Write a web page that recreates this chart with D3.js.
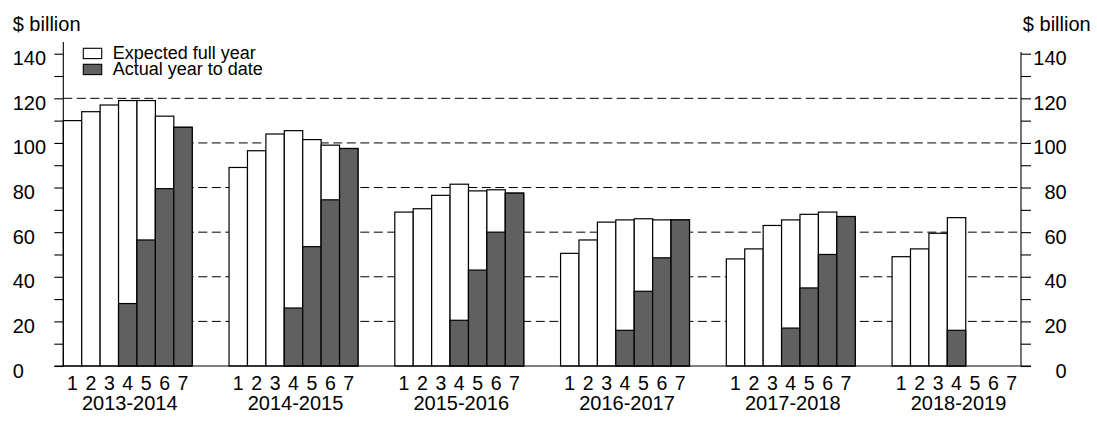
<!DOCTYPE html>
<html>
<head>
<meta charset="utf-8">
<script src="https://cdn.jsdelivr.net/npm/d3@7"></script>
<style>
  body { margin: 0; background: #fff; }
  text { font-family: "Liberation Sans", Arial, sans-serif; fill: #000; }
</style>
</head>
<body>
<div id="chart"></div>
<script>
// financial years and the periods within each one
const years = ["2013-2014", "2014-2015", "2015-2016", "2016-2017", "2017-2018", "2018-2019"];
const periods = [1, 2, 3, 4, 5, 6, 7];

// expected full year ($ billion), one row per year, null = not yet published
const expectedFullYear = [
    [110, 114, 117, 119, 119, 112, 107],
    [89, 96.5, 104, 105.5, 101.5, 99, 97.5],
    [69, 70.5, 76.5, 81.5, 78.5, 79, 77.5],
    [50.5, 56.5, 64.5, 65.5, 66, 65.5, 65.5],
    [48, 52.5, 63, 65.5, 68, 69, 67],
    [49, 52.5, 59.5, 66.5, null, null, null]
];

// actual year to date ($ billion)
const actualToDate = [
    [null, null, null, 28, 56.5, 79.5, 107],
    [null, null, null, 26, 53.5, 74.5, 97.5],
    [null, null, null, 20.5, 43, 60, 77.5],
    [null, null, null, 16, 33.5, 48.5, 65.5],
    [null, null, null, 17, 35, 50, 67],
    [null, null, null, 16, null, null, null]
];

const yTicks = [0, 20, 40, 60, 80, 100, 120, 140];
const legendLabels = ["Expected full year", "Actual year to date"];

const width = 1097, height = 422;
const plotLeft = 63.3, plotRight = 1021, plotBottom = 366, plotTop = 53.7;
const darkFill = "#606060";
const slotsPerYear = periods.length + 2;

const svg = d3.select("#chart").append("svg")
    .attr("width", width)
    .attr("height", height);

const y = d3.scaleLinear().domain([0, 140]).range([plotBottom, plotTop]);
const x = d3.scaleLinear()
    .domain([0, years.length * slotsPerYear - 2])
    .range([plotLeft, plotRight]);
const bw = x(1) - x(0);

const slot = (yi, pi) => yi * slotsPerYear + pi;

// dashed gridlines
svg.append("g")
    .selectAll("line")
    .data(yTicks.filter(d => d > 0 && d < 140))
    .enter()
    .append("line")
    .attr("x1", plotLeft).attr("x2", plotRight)
    .attr("y1", d => y(d)).attr("y2", d => y(d))
    .attr("stroke", "#000")
    .attr("stroke-width", 1)
    .attr("stroke-dasharray", "9,4.5");

// flatten rows into bars
const expBars = [], actBars = [];
years.forEach((yr, yi) => {
    periods.forEach((p, pi) => {
        if (expectedFullYear[yi][pi] != null) expBars.push({ s: slot(yi, pi), v: expectedFullYear[yi][pi] });
        if (actualToDate[yi][pi] != null) actBars.push({ s: slot(yi, pi), v: actualToDate[yi][pi] });
    });
});

svg.append("g")
    .selectAll("rect")
    .data(expBars)
    .enter()
    .append("rect")
    .attr("x", d => x(d.s))
    .attr("width", bw)
    .attr("y", d => y(d.v))
    .attr("height", d => y(0) - y(d.v))
    .attr("fill", "#fff")
    .attr("stroke", "#000")
    .attr("stroke-width", 1.2);

svg.append("g")
    .selectAll("rect")
    .data(actBars)
    .enter()
    .append("rect")
    .attr("x", d => x(d.s))
    .attr("width", bw)
    .attr("y", d => y(d.v))
    .attr("height", d => y(0) - y(d.v))
    .attr("fill", darkFill)
    .attr("stroke", "#000")
    .attr("stroke-width", 1.2);

// axes
const minorTicks = d3.range(0, 141, 10);

const leftAxis = svg.append("g")
    .attr("transform", `translate(${plotLeft},0)`)
    .call(d3.axisLeft(y).tickValues(minorTicks).tickSize(9).tickSizeOuter(0)
        .tickFormat(d => yTicks.includes(d) ? d : ""));
leftAxis.select(".domain").remove();
leftAxis.selectAll("line").attr("stroke-width", 1.1);
leftAxis.selectAll("text")
    .attr("x", 12.7 - plotLeft)
    .attr("dy", "0.55em")
    .attr("text-anchor", "start")
    .style("font-size", "20px")
    .style("font-family", "Liberation Sans, Arial, sans-serif");

const rightAxis = svg.append("g")
    .attr("transform", `translate(${plotRight},0)`)
    .call(d3.axisRight(y).tickValues(minorTicks).tickSize(10).tickSizeOuter(0)
        .tickFormat(d => yTicks.includes(d) ? d : ""));
rightAxis.select(".domain").remove();
rightAxis.selectAll("line").attr("stroke-width", 1.1);
rightAxis.selectAll("text")
    .attr("x", 1066.7 - plotRight)
    .attr("dy", "0.55em")
    .attr("text-anchor", "end")
    .style("font-size", "20px")
    .style("font-family", "Liberation Sans, Arial, sans-serif");

// vertical axis lines and baseline
svg.append("line")
    .attr("x1", plotLeft).attr("x2", plotLeft)
    .attr("y1", y(0)).attr("y2", y(145.2))
    .attr("stroke", "#000").attr("stroke-width", 1.1);
svg.append("line")
    .attr("x1", plotRight).attr("x2", plotRight)
    .attr("y1", y(0)).attr("y2", y(140.8))
    .attr("stroke", "#000").attr("stroke-width", 1.1);
svg.append("line")
    .attr("x1", plotLeft - 9).attr("x2", plotRight + 10)
    .attr("y1", y(0)).attr("y2", y(0))
    .attr("stroke", "#000").attr("stroke-width", 1.2);

// unit labels
svg.append("text").attr("x", 12.7).attr("y", 31)
    .style("font-size", "20px").text("$ billion");
svg.append("text").attr("x", 1090.7).attr("y", 31)
    .attr("text-anchor", "end")
    .style("font-size", "20px").text("$ billion");

// period numbers and year labels
const periodLabels = [];
years.forEach((yr, yi) => periods.forEach((p, pi) => periodLabels.push({ s: slot(yi, pi), p: p })));

svg.append("g")
    .selectAll("text")
    .data(periodLabels)
    .enter()
    .append("text")
    .attr("x", d => x(d.s) + bw / 2)
    .attr("y", 390)
    .attr("text-anchor", "middle")
    .style("font-size", "19.5px")
    .text(d => d.p);

svg.append("g")
    .selectAll("text")
    .data(years)
    .enter()
    .append("text")
    .attr("x", (d, i) => x(slot(i, 0)) + bw * periods.length / 2 + 2)
    .attr("y", 410)
    .attr("text-anchor", "middle")
    .style("font-size", "20px")
    .text(d => d);

// legend
const legend = svg.append("g").attr("transform", "translate(83.3,48.3)");
legendLabels.forEach((lab, i) => {
    const row = legend.append("g").attr("transform", `translate(0, ${i * 16})`);
    row.append("rect")
        .attr("width", 18.4)
        .attr("height", 10.3)
        .attr("fill", i === 0 ? "#fff" : darkFill)
        .attr("stroke", "#000")
        .attr("stroke-width", 1.1);
    row.append("text")
        .attr("x", 29.4)
        .attr("y", 10.2)
        .style("font-size", "18px")
        .text(lab);
});
</script>
</body>
</html>
